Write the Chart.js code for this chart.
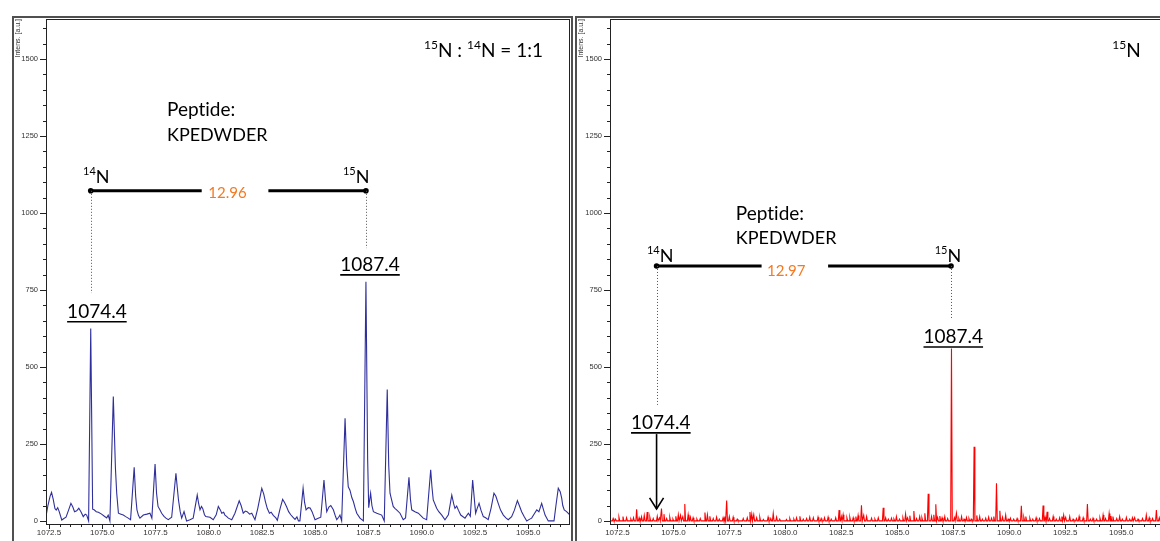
<!DOCTYPE html>
<html>
<head>
<meta charset="utf-8">
<script src="https://cdn.jsdelivr.net/npm/chart.js@4.4.1/dist/chart.umd.min.js"></script>
<style>
  html, body { margin: 0; padding: 0; background: #fff; width: 1160px; height: 541px; overflow: hidden; position: relative; }
  canvas { position: absolute; top: 16px; display: block; }
  #c1 { left: 12px; }
  #c2 { left: 575px; }
</style>
</head>
<body>
<canvas id="c1" width="561" height="545"></canvas>
<canvas id="c2" width="600" height="545"></canvas>
<script>
// 15N:14N = 1:1 profile spectrum (m/z, intensity)
const blueMz = [1072.36, 1072.45, 1072.55, 1072.62, 1072.70, 1072.78, 1072.84, 1072.91, 1072.98, 1073.10,
  1073.20, 1073.30, 1073.42, 1073.53, 1073.62, 1073.70, 1073.80, 1073.90, 1074.00, 1074.11,
  1074.20, 1074.27, 1074.36, 1074.46, 1074.55, 1074.62, 1074.72, 1074.82, 1074.97, 1075.10,
  1075.21, 1075.28, 1075.36, 1075.52, 1075.62, 1075.68, 1075.76, 1075.88, 1075.99, 1076.10,
  1076.22, 1076.33, 1076.50, 1076.57, 1076.63, 1076.70, 1076.77, 1076.93, 1077.10, 1077.24,
  1077.33, 1077.48, 1077.55, 1077.62, 1077.72, 1077.79, 1077.90, 1077.99, 1078.10, 1078.26,
  1078.46, 1078.52, 1078.58, 1078.66, 1078.73, 1078.84, 1078.96, 1079.12, 1079.27, 1079.46,
  1079.53, 1079.59, 1079.66, 1079.72, 1079.80, 1079.86, 1080.06, 1080.21, 1080.35, 1080.45,
  1080.55, 1080.61, 1080.70, 1080.76, 1080.85, 1080.92, 1081.08, 1081.23, 1081.43, 1081.52,
  1081.62, 1081.72, 1081.80, 1081.92, 1082.02, 1082.17, 1082.30, 1082.49, 1082.58, 1082.66,
  1082.75, 1082.85, 1082.93, 1083.03, 1083.15, 1083.22, 1083.35, 1083.47, 1083.56, 1083.66,
  1083.75, 1083.85, 1083.95, 1084.05, 1084.14, 1084.21, 1084.28, 1084.43, 1084.50, 1084.57,
  1084.67, 1084.76, 1084.85, 1084.99, 1085.14, 1085.26, 1085.41, 1085.48, 1085.54, 1085.64,
  1085.73, 1085.85, 1085.95, 1086.01, 1086.10, 1086.16, 1086.24, 1086.40, 1086.48, 1086.55,
  1086.63, 1086.72, 1086.79, 1086.88, 1086.95, 1087.10, 1087.26, 1087.38, 1087.46, 1087.51,
  1087.56, 1087.60, 1087.66, 1087.73, 1087.89, 1088.12, 1088.24, 1088.38, 1088.45, 1088.51,
  1088.58, 1088.66, 1088.75, 1088.82, 1088.98, 1089.13, 1089.24, 1089.40, 1089.47, 1089.53,
  1089.68, 1089.84, 1090.07, 1090.23, 1090.42, 1090.48, 1090.54, 1090.70, 1090.80, 1090.94,
  1091.09, 1091.25, 1091.41, 1091.50, 1091.56, 1091.64, 1091.72, 1091.83, 1092.03, 1092.19,
  1092.28, 1092.39, 1092.47, 1092.53, 1092.60, 1092.69, 1092.78, 1092.89, 1093.00, 1093.12,
  1093.25, 1093.39, 1093.48, 1093.59, 1093.70, 1093.83, 1093.95, 1094.06, 1094.22, 1094.35,
  1094.49, 1094.58, 1094.69, 1094.80, 1094.93, 1095.05, 1095.16, 1095.30, 1095.40, 1095.50,
  1095.63, 1095.70, 1095.79, 1095.94, 1096.21, 1096.30, 1096.41, 1096.50, 1096.57, 1096.62,
  1096.69, 1096.80, 1096.96];
const blueInt = [15, 50, 80, 93, 70, 40, 35, 43, 30, 3,
  8, 12, 35, 57, 45, 30, 33, 41, 30, 14,
  22, 19, 0, 625, 38, 36, 30, 28, 22, 15,
  10, 19, 0, 404, 170, 90, 25, 22, 19, 14,
  9, 4, 174, 80, 36, 18, 9, 19, 22, 25,
  9, 185, 90, 47, 35, 25, 15, 9, 4, 12,
  155, 110, 68, 30, 9, 30, 0, 4, 9, 84,
  55, 36, 47, 40, 20, 14, 12, 4, 20, 47,
  35, 25, 28, 19, 14, 9, 4, 25, 65, 50,
  25, 32, 30, 22, 25, 4, 40, 106, 88, 63,
  40, 25, 28, 18, 10, 2, 40, 70, 60, 45,
  30, 20, 12, 5, 13, 0, 0, 106, 60, 36,
  43, 42, 30, 4, 9, 12, 133, 70, 30, 45,
  50, 36, 15, 4, 12, 19, 0, 333, 180, 111,
  100, 75, 63, 40, 25, 9, 0, 777, 200, 43,
  70, 90, 50, 30, 25, 19, 0, 427, 180, 90,
  70, 47, 40, 36, 25, 4, 10, 142, 70, 36,
  30, 25, 9, 4, 166, 110, 68, 41, 30, 19,
  4, 20, 84, 55, 41, 48, 35, 19, 9, 25,
  15, 133, 70, 25, 40, 57, 35, 14, 10, 4,
  40, 90, 80, 57, 35, 19, 10, 4, 14, 35,
  66, 50, 30, 15, 0, 5, 9, 25, 36, 30,
  57, 40, 19, 0, 0, 50, 106, 95, 74, 50,
  36, 30, 19];

// 15N only: centroid-like sticks (m/z, intensity)
const redMz = [1072.31, 1072.42, 1072.57, 1072.75, 1072.91, 1073.10, 1073.22, 1073.36, 1073.47, 1073.58,
  1073.70, 1073.83, 1073.95, 1074.10, 1074.28, 1074.38, 1074.47, 1074.58, 1074.70, 1074.84,
  1074.98, 1075.11, 1075.22, 1075.32, 1075.42, 1075.51, 1075.66, 1075.76, 1075.88, 1076.05,
  1076.20, 1076.41, 1076.52, 1076.63, 1076.78, 1076.93, 1077.05, 1077.22, 1077.30, 1077.38,
  1077.50, 1077.67, 1077.85, 1078.12, 1078.30, 1078.42, 1078.50, 1078.59, 1078.72, 1078.86,
  1079.02, 1079.23, 1079.35, 1079.46, 1079.61, 1079.75, 1080.05, 1080.20, 1080.38, 1080.50,
  1080.65, 1080.80, 1080.95, 1081.09, 1081.25, 1081.46, 1081.60, 1081.75, 1081.91, 1082.05,
  1082.25, 1082.40, 1082.50, 1082.58, 1082.75, 1082.88, 1083.03, 1083.15, 1083.25, 1083.40,
  1083.50, 1083.63, 1083.85, 1084.00, 1084.15, 1084.37, 1084.48, 1084.60, 1084.74, 1084.85,
  1084.96, 1085.10, 1085.25, 1085.37, 1085.46, 1085.56, 1085.74, 1085.86, 1086.00, 1086.10,
  1086.23, 1086.38, 1086.53, 1086.63, 1086.72, 1086.80, 1086.90, 1087.00, 1087.12, 1087.25,
  1087.42, 1087.55, 1087.64, 1087.75, 1087.87, 1087.98, 1088.09, 1088.20, 1088.30, 1088.43,
  1088.55, 1088.68, 1088.80, 1088.95, 1089.08, 1089.21, 1089.31, 1089.43, 1089.58, 1089.70,
  1089.84, 1089.95, 1090.05, 1090.20, 1090.35, 1090.54, 1090.65, 1090.74, 1090.92, 1091.05,
  1091.20, 1091.35, 1091.51, 1091.60, 1091.69, 1091.80, 1091.96, 1092.10, 1092.25, 1092.35,
  1092.43, 1092.52, 1092.70, 1092.85, 1093.00, 1093.12, 1093.30, 1093.49, 1093.62, 1093.74,
  1093.90, 1094.05, 1094.19, 1094.30, 1094.46, 1094.54, 1094.63, 1094.80, 1094.93, 1095.05,
  1095.23, 1095.38, 1095.50, 1095.60, 1095.75, 1095.95, 1096.12, 1096.25, 1096.40, 1096.57,
  1096.70, 1096.85];
const redInt = [8, 6, 12, 14, 10, 6, 10, 38, 10, 13,
  18, 29, 12, 8, 15, 10, 40, 22, 8, 12,
  6, 15, 20, 18, 14, 55, 20, 12, 10, 6,
  8, 27, 20, 15, 8, 12, 6, 10, 14, 66,
  14, 12, 6, 8, 10, 29, 22, 20, 10, 12,
  5, 12, 8, 24, 12, 6, 5, 8, 6, 10,
  15, 6, 8, 12, 10, 12, 8, 10, 12, 6,
  10, 35, 14, 20, 10, 12, 10, 14, 18, 51,
  18, 14, 9, 6, 10, 43, 10, 6, 9, 6,
  14, 6, 10, 22, 10, 17, 32, 8, 14, 10,
  25, 88, 14, 20, 54, 12, 16, 10, 14, 8,
  560, 10, 25, 8, 14, 6, 11, 8, 6, 241,
  18, 14, 6, 9, 12, 9, 14, 122, 33, 12,
  19, 6, 9, 6, 8, 49, 12, 14, 9, 6,
  10, 8, 50, 12, 30, 8, 14, 6, 10, 14,
  19, 12, 14, 6, 8, 14, 10, 55, 6, 9,
  6, 10, 19, 8, 24, 16, 14, 8, 14, 6,
  11, 6, 10, 11, 6, 8, 19, 10, 8, 35,
  10, 6];

const xMajorTicks = [1072.5, 1075.0, 1077.5, 1080.0, 1082.5, 1085.0, 1087.5, 1090.0, 1092.5, 1095.0];
const yMajorTicks = [0, 250, 500, 750, 1000, 1250, 1500];

const isMajorX = v => xMajorTicks.some(t => Math.abs(t - v) < 1e-6);
const isMajorY = v => yMajorTicks.some(t => Math.abs(t - v) < 1e-6);

// annotations, in data coordinates (m/z, intensity)
const leftNotes = [
  {type: 'text', at: [1095.69, 1526], align: 'right', size: 19, runs: [['15', 1], ['N : '], ['14', 1], ['N = 1:1']]},
  {type: 'text', at: [1078.04, 1334], size: 19, runs: [['Pept'], ['ide:']]},
  {type: 'text', at: [1078.04, 1253], size: 18, runs: [['KPEDWDER']]},
  {type: 'text', at: [1074.10, 1117], size: 18, runs: [['14', 1], ['N']]},
  {type: 'text', at: [1086.30, 1117], size: 18, runs: [['15', 1], ['N']]},
  {type: 'line', from: [1074.46, 1072], to: [1079.67, 1072]},
  {type: 'line', from: [1082.80, 1072], to: [1087.38, 1072]},
  {type: 'dot', at: [1074.46, 1072]},
  {type: 'dot', at: [1087.38, 1072]},
  {type: 'text', at: [1080.88, 1065], align: 'center', size: 15, color: '#f47920', runs: [['12.96']]},
  {type: 'dots', from: [1074.46, 1072], to: [1074.46, 740]},
  {type: 'dots', from: [1087.38, 1072], to: [1087.38, 886]},
  {type: 'text', at: [1087.57, 831], align: 'center', size: 19, underline: true, runs: [['1087.4']]},
  {type: 'text', at: [1074.75, 679], align: 'center', size: 19, underline: true, runs: [['1074.4']]}
];
const rightNotes = [
  {type: 'text', at: [1095.87, 1526], align: 'right', size: 19, runs: [['15', 1], ['N']]},
  {type: 'text', at: [1077.79, 997], size: 19, runs: [['Pept'], ['ide:']]},
  {type: 'text', at: [1077.79, 919], size: 18, runs: [['KPEDWDER']]},
  {type: 'text', at: [1073.82, 860], size: 18, runs: [['14', 1], ['N']]},
  {type: 'text', at: [1086.67, 860], size: 18, runs: [['15', 1], ['N']]},
  {type: 'line', from: [1074.25, 828], to: [1078.94, 828]},
  {type: 'line', from: [1081.91, 828], to: [1087.40, 828]},
  {type: 'dot', at: [1074.25, 828]},
  {type: 'dot', at: [1087.40, 828]},
  {type: 'text', at: [1080.04, 812], align: 'center', size: 15, color: '#f47920', runs: [['12.97']]},
  {type: 'dots', from: [1074.25, 828], to: [1074.25, 377]},
  {type: 'dots', from: [1087.40, 828], to: [1087.40, 659]},
  {type: 'text', at: [1087.50, 597], align: 'center', size: 19, underline: true, runs: [['1087.4']]},
  {type: 'text', at: [1074.44, 318], align: 'center', size: 19, underline: true, runs: [['1074.4']]},
  {type: 'arrow', from: [1074.25, 282], to: [1074.25, 39]}
];

const FONT = 'Lato, "Open Sans", sans-serif';

const notesPlugin = {
  id: 'notes',
  afterDatasetsDraw(chart, args, opts) {
    const {ctx, scales: {x, y}} = chart;
    const P = ([m, v]) => [x.getPixelForValue(m), y.getPixelForValue(v)];
    ctx.save();
    for (const it of opts.items) {
      ctx.strokeStyle = '#000';
      ctx.fillStyle = '#000';
      ctx.setLineDash([]);
      if (it.type === 'line') {
        const [x1, y1] = P(it.from), [x2, y2] = P(it.to);
        ctx.lineWidth = 3;
        ctx.beginPath(); ctx.moveTo(x1, y1); ctx.lineTo(x2, y2); ctx.stroke();
      } else if (it.type === 'dot') {
        const [px, py] = P(it.at);
        ctx.beginPath(); ctx.arc(px, py, 2.8, 0, Math.PI * 2); ctx.fill();
      } else if (it.type === 'dots') {
        const [x1, y1] = P(it.from), [x2, y2] = P(it.to);
        ctx.strokeStyle = '#555';
        ctx.lineWidth = 1;
        ctx.setLineDash([1, 2]);
        ctx.beginPath(); ctx.moveTo(Math.round(x1) + 0.5, y1); ctx.lineTo(Math.round(x2) + 0.5, y2); ctx.stroke();
      } else if (it.type === 'arrow') {
        const [x1, y1] = P(it.from), [x2, y2] = P(it.to);
        ctx.lineWidth = 1.6;
        ctx.beginPath(); ctx.moveTo(x1, y1); ctx.lineTo(x2, y2); ctx.stroke();
        ctx.beginPath(); ctx.moveTo(x2 - 7, y2 - 11); ctx.lineTo(x2, y2); ctx.lineTo(x2 + 7, y2 - 11); ctx.stroke();
      } else if (it.type === 'text') {
        const [px, py] = P(it.at);
        const size = it.size;
        const supSize = Math.round(size * 0.62);
        ctx.textBaseline = 'middle';
        ctx.textAlign = 'left';
        const widths = it.runs.map(([t, sup]) => {
          ctx.font = `${sup ? supSize : size}px ${FONT}`;
          return ctx.measureText(t).width;
        });
        const total = widths.reduce((a, b) => a + b, 0);
        let cx = px;
        if (it.align === 'right') cx = px - total;
        if (it.align === 'center') cx = px - total / 2;
        const start = cx;
        ctx.fillStyle = it.color || '#000';
        it.runs.forEach(([t, sup], i) => {
          ctx.font = `${sup ? supSize : size}px ${FONT}`;
          ctx.fillText(t, cx, sup ? py - size * 0.3 : py);
          cx += widths[i];
        });
        if (it.underline) {
          ctx.lineWidth = 1.6;
          ctx.beginPath();
          ctx.moveTo(start, py + size * 0.52);
          ctx.lineTo(start + total, py + size * 0.52);
          ctx.stroke();
        }
      }
    }
    ctx.restore();
  }
};

const frameTicks = {
  id: 'frameTicks',
  afterDraw(chart) {
    const {ctx, chartArea: a, scales: {x, y}, width, height} = chart;
    ctx.save();
    ctx.strokeStyle = '#505050';
    ctx.lineWidth = 2;
    ctx.strokeRect(1, 1, width - 2, height + 10);
    ctx.strokeStyle = '#222';
    ctx.lineWidth = 1;
    ctx.strokeRect(a.left + 0.5, a.top + 0.5, a.right - a.left - 1, a.bottom - a.top);
    ctx.beginPath();
    y.ticks.forEach(t => {
      const p = Math.round(y.getPixelForValue(t.value)) + 0.5;
      const len = isMajorY(t.value) ? 6 : 3;
      ctx.moveTo(a.left - len, p); ctx.lineTo(a.left, p);
    });
    x.ticks.forEach(t => {
      const p = Math.round(x.getPixelForValue(t.value)) + 0.5;
      const len = isMajorX(t.value) ? 5 : 3;
      ctx.moveTo(p, a.bottom); ctx.lineTo(p, a.bottom + len);
    });
    ctx.stroke();
    ctx.restore();
  }
};

function makeChart(id, points, color, xMin, xMax, yAxisWidth, padRight, notes) {
  return new Chart(document.getElementById(id), {
    type: 'line',
    data: {
      datasets: [{
        data: points,
        borderColor: color,
        borderWidth: 1.1,
        pointRadius: 0,
        tension: 0,
        fill: false
      }]
    },
    options: {
      responsive: false,
      animation: false,
      layout: {padding: {top: 3, right: padRight, left: 0, bottom: 0}},
      plugins: {
        legend: {display: false},
        tooltip: {enabled: false},
        notes: {items: notes}
      },
      scales: {
        x: {
          type: 'linear',
          min: xMin,
          max: xMax,
          grid: {display: false, drawTicks: false},
          border: {display: false},
          afterFit: s => { s.height = 37; s.paddingLeft = 0; s.paddingRight = 0; },
          ticks: {
            stepSize: 0.5,
            includeBounds: false,
            autoSkip: false,
            maxRotation: 0,
            padding: 4,
            color: '#333',
            font: {family: 'Liberation Sans, Arial, sans-serif', size: 8},
            callback: v => isMajorX(v) ? v.toFixed(1) : ''
          }
        },
        y: {
          min: -10,
          max: 1630,
          grid: {display: false, drawTicks: false},
          border: {display: false},
          afterFit: s => { s.width = yAxisWidth; s.paddingTop = 0; s.paddingBottom = 0; },
          title: {
            display: true,
            text: 'Intens. [a.u.]',
            align: 'end',
            color: '#333',
            padding: {top: 2, bottom: 0},
            font: {family: 'Liberation Sans, Arial, sans-serif', size: 7}
          },
          ticks: {
            stepSize: 50,
            includeBounds: false,
            autoSkip: false,
            padding: 8,
            color: '#333',
            font: {family: 'Liberation Sans, Arial, sans-serif', size: 7.5},
            callback: v => isMajorY(v) ? String(v) : ''
          }
        }
      }
    },
    plugins: [frameTicks, notesPlugin]
  });
}

const bluePoints = blueMz.map((m, i) => ({x: m, y: blueInt[i]}));
const redPoints = [{x: 1072.17, y: 0}];
redMz.forEach((m, i) => {
  redPoints.push({x: m - 0.035, y: 0}, {x: m, y: redInt[i]}, {x: m + 0.035, y: 0});
});
redPoints.push({x: 1097.0, y: 0});

makeChart('c1', bluePoints, '#2f2f9c', 1072.36, 1096.96, 34, 3, leftNotes);
makeChart('c2', redPoints, '#ff0000', 1072.17, 1097.0, 35, 9, rightNotes);
</script>
</body>
</html>
